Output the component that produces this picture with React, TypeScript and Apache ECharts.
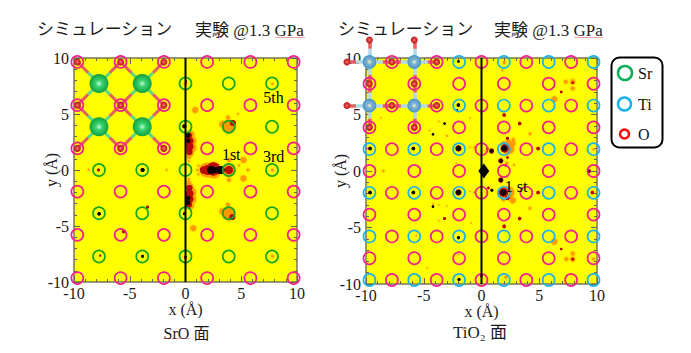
import React, { useEffect, useRef } from "react";
import * as echarts from "echarts";

const SERIF = '"Liberation Serif", "Noto Sans CJK JP", serif';

const latticeOdd = [-9.7, -5.82, -1.94, 1.94, 5.82, 9.7];
const latticeEven = [-7.76, -3.88, 0, 3.88, 7.76];
const latticeY = [9.65, 5.79, 1.93, -1.93, -5.79, -9.65];
const latticeEvenY = [7.72, 3.86, 0, -3.86, -7.72];

const tickValues = [-10, -5, 0, 5, 10];

// SrO panel: spots as [x, y, spot strength]
const sroOrange = [
  [0.87, 5.35, 6], [0.7, -5.2, 6], [3.9, 3.9, 13], [3.85, -3.9, 13], [3.3, 4.1, 6], [3.3, -3.7, 6],
  [3.8, 4.7, 4], [3.8, -3.1, 4], [4.7, 5.0, 2], [3.9, 0, 13], [5.2, 0.9, 6], [5.2, -0.75, 6], [5.6, 0, 3],
  [4.8, 0.4, 2], [3.9, 0.9, 4], [3.9, -0.9, 4], [7.8, 0, 3], [-8.7, 0, 2], [-1.7, 0, 2], [0, 7.7, 3],
  [7.8, 7.7, 2.5], [7.8, -7.7, 3], [0.3, 1.15, 4], [0.3, 0.8, 2], [0.3, -1.1, 4], [0.3, -0.8, 2], [1.15, 0.4, 2], [1.05, 0, 2.5],
  [1.15, -0.4, 2], [0.45, 3.2, 7], [0.5, 2.6, 10], [0.5, 2, 10], [0.4, 1.5, 7], [0.45, -3.2, 7], [0.5, -2.6, 10], [0.5, -2, 10], [0.4, -1.5, 7],
  [1.9, 0, 14], [2.5, 0, 16], [1.6, 0.2, 6],
];
const sroRed = [
  [4.25, 4.2, 6], [4.2, -4.2, 6], [3.9, 0, 8], [1.6, 0, 7], [2.0, 0, 10], [2.5, 0.1, 13], [3.0, 0, 8],
  [0.35, 1.6, 6], [0.35, 2.1, 8], [0.35, 2.6, 8], [0.3, 3.1, 6], [0.35, -1.6, 6], [0.35, -2.1, 8], [0.35, -2.6, 8], [0.3, -3.1, 6],
  [-7.8, 0, 3], [-3.4, -3.3, 3], [-5.55, -5.5, 3.5], [-7.65, -7.65, 2], [0, -7.8, 3], [0.05, 7.9, 2],
];
const sroBlack = [
  [-0.1, 3.9, 4], [0.2, 3.1, 5], [0.25, 2.6, 4], [0.2, -2.9, 5], [0.25, -2.5, 4], [-0.1, -3.9, 3], [2.3, 0, 8], [2.7, 0, 6], [3.15, 0, 8],
  [-3.85, 0, 4], [-7.75, -3.9, 3.5], [-3.85, -7.7, 3],
];

// TiO2 panel
const tioOrange = [
  [1.96, 9.6, 3], [1.8, 8.9, 2], [7.3, 7.9, 4], [7.9, 7.9, 5], [7.9, 7.3, 4], [6.3, 6.35, 6],
  [4.2, 3.3, 3], [-3.0, 3.1, 2], [-3.7, 4.4, 1.5], [-4.5, 3.6, 1.5], [-1, 4.7, 1.5], [-8.7, 4.7, 1.5], [-0.6, 2.1, 2],
  [-1.0, 2.1, 1.5], [2.7, 2.45, 6], [2.75, 2.8, 3], [2.3, 2.6, 5], [2.3, 2.0, 12], [1.96, 2.35, 6], [2.2, 0.7, 3], [2.8, 0.55, 2],
  [-8.5, 0, 2.5], [-2.2, 0.7, 1.5], [2.7, -2.6, 6], [2.3, -2.3, 5], [2.3, -1.9, 12], [1.9, -2.5, 4], [2.2, -0.5, 2],
  [4.2, -3.3, 3], [-3.0, -3.1, 1.5], [-3.7, -3.0, 1.5], [-3.7, -4.4, 1.5], [-4.2, -2.9, 1.5], [-0.9, -4.6, 1.5], [-5.65, -5.7, 1.5],
  [6.3, -6.25, 6], [7.35, -7.8, 4], [7.9, -7.8, 5], [7.9, -7.3, 4], [-4.7, -8.6, 1.5], [2.1, -9.4, 3], [9.7, -7.8, 3],
  [9.7, 1.9, 2], [-0.6, -1.9, 2], [-1, -1.8, 1.5], [0.3, 1.8, 1.5], [0.4, -1.9, 1.5], [-6.2, 1.6, 1.5], [-2, -7.4, 1.5],
];
const tioRed = [
  [7.9, 7.8, 2.5], [6.9, 7, 2.5], [1.96, 4.95, 3.5], [3.3, 4.2, 3.5], [4.9, 2, 3.5], [2.25, 1.2, 2.5], [2.25, 2.9, 3], [0.5, 2, 2.5],
  [2.1, 0.5, 2.5], [9.3, 0, 4], [9.6, -1.9, 3.5], [4.9, -1.9, 3.5], [2.25, -2.4, 4], [3.3, -4.2, 3.5], [1.96, -4.9, 3.5],
  [6.9, -6.9, 2.5], [7.9, -7.8, 2.5], [0, -9.3, 2.5], [-3.2, -4.2, 3], [0.6, -1.5, 2.5],
  [2, 2, 8], [1.9, -1.9, 9], [-2, 2, 6], [-2, -1.9, 6], [0.87, 1.77, 5], [1.67, 0.9, 5], [1.67, -0.8, 5],
];
const tioBlack = [
  [-2, 9.7, 2.5], [-2, 5.85, 3.5], [-2.1, 5.4, 1.5], [-3.2, 4.2, 2.5], [-4.2, 3.25, 2.5], [-9.65, 2, 3.5], [-5.9, 2, 3.5], [-2, 2, 5],
  [0.87, 1.77, 3.5], [1.96, 2, 5.5], [1.67, 0.9, 3.5], [-9.65, -1.9, 3.5], [-5.9, -1.9, 3.5], [-2, -1.9, 5], [0.9, -1.7, 3],
  [1.67, -0.8, 3.5], [1.9, -1.9, 6], [-4.2, -3.15, 2.5], [-2, -5.9, 3], [-1.95, -9.6, 3], [9.3, 0, 2.5],
];
const tioDiamond = [[0.2, 0]];

const sroAnnotations = [[4.1, 1.35, "1st"], [7.9, 1.25, "3rd"], [7.9, 6.5, "5th"]];
const tioAnnotations = [[3, -1.35, "1 st"]];

// ball-and-stick atoms
const srAtoms = [[-7.76, 7.72], [-3.88, 7.72], [-7.76, 3.86], [-3.88, 3.86]];
const sroOAtoms = [
  [-9.7, 9.65], [-5.82, 9.65], [-1.94, 9.65], [-9.7, 5.79], [-5.82, 5.79], [-1.94, 5.79],
  [-9.7, 1.93], [-5.82, 1.93], [-1.94, 1.93],
];
const tiAtoms = [[-9.7, 9.65], [-5.82, 9.65], [-9.7, 5.79], [-5.82, 5.79]];
const tioOAtoms = [
  [-9.7, 11.6], [-5.82, 11.6], [-11.65, 9.65], [-7.76, 9.65], [-3.88, 9.65], [-9.7, 7.72], [-5.82, 7.72],
  [-11.65, 5.79], [-7.76, 5.79], [-3.88, 5.79], [-9.7, 3.86], [-5.82, 3.86],
];
const centerLine = [[0, -10], [0, 10]];

const cross = (xs: number[], ys: number[]) => xs.flatMap((x) => ys.map((y) => [x, y]));

const sroOCircles = cross(latticeOdd, latticeY);
const sroSrCircles = cross(latticeEven, latticeEvenY);
const tioTiCircles = cross(latticeOdd, latticeY);
const tioOCircles = [...cross(latticeEven, latticeY), ...cross(latticeOdd, latticeEvenY)];

const PINK = "#f5208c";
const GREEN = "#17a81f";
const CYAN = "#1cb2ea";

const bondSegments = (a: number[][], b: number[][], reach: number, split: number, which: "a" | "b") => {
  const out: any[] = [];
  a.forEach((p) =>
    b.forEach((q) => {
      if (Math.hypot(p[0] - q[0], p[1] - q[1]) <= reach) {
        const m = [p[0] + (q[0] - p[0]) * split, p[1] + (q[1] - p[1]) * split];
        out.push({ coords: [which === "a" ? p : q, m] });
      }
    })
  );
  return out;
};

const axes = (grid: number) => {
  const common = {
    type: "value" as const,
    min: -10,
    max: 10,
    interval: 5,
    gridIndex: grid,
    splitLine: { show: false },
    axisLine: { show: true, onZero: false, lineStyle: { color: "#77775a", width: 1.5 } },
    axisTick: { show: true, inside: true, length: 6, lineStyle: { color: "#66664a", width: 1 } },
    minorTick: { show: true, splitNumber: 5, length: 3, lineStyle: { color: "#66664a", width: 1 } },
    minorSplitLine: { show: false },
    z: 1,
  };
  const label = {
    show: true,
    fontFamily: SERIF,
    fontSize: 16,
    color: "#1a1a1a",
    customValues: tickValues,
  };
  return {
    x: [
      {
        ...common,
        position: "bottom",
        axisLabel: { ...label, margin: 3 },
        name: "x (Å)",
        nameLocation: "middle",
        nameMoveOverlap: false,
        nameGap: 19,
        nameTextStyle: { fontFamily: SERIF, fontSize: 16, color: "#1a1a1a" },
      },
      { ...common, position: "top", axisLabel: { show: false } },
    ],
    y: [
      {
        ...common,
        position: "left",
        axisLabel: { ...label, margin: 5 },
        name: "y (Å)",
        nameLocation: "middle",
        nameRotate: 90,
        nameMoveOverlap: false,
        nameGap: 15,
        nameTextStyle: { fontFamily: SERIF, fontSize: 16, color: "#1a1a1a" },
      },
      { ...common, position: "right", axisLabel: { show: false } },
    ],
  };
};

const grad = (stops: string[]) =>
  new echarts.graphic.RadialGradient(0.5, 0.5, 0.5, [
    { offset: 0, color: stops[0] },
    { offset: 0.35, color: stops[1] },
    { offset: 1, color: stops[2] },
  ]);

function panelSeries(idx: number, cfg: any) {
  const ax = { xAxisIndex: idx * 2, yAxisIndex: idx * 2 };
  const rings = (data: number[][], color: string, z: number) => ({
    type: "scatter",
    ...ax,
    clip: false,
    data,
    z,
    symbol: "circle",
    symbolSize: 12,
    silent: true,
    itemStyle: { color: "rgba(0,0,0,0)", borderColor: color, borderWidth: 1.7, opacity: 1 },
  });
  const spots = (data: number[][], color: string, z: number, blur: number) => ({
    type: "scatter",
    ...ax,
    clip: false,
    data,
    z,
    symbol: "circle",
    symbolSize: (v: number[]) => v[2],
    silent: true,
    itemStyle: { color, opacity: 1, shadowBlur: blur, shadowColor: color },
  });
  const bonds = (data: any[], color: string) => ({
    type: "lines",
    coordinateSystem: "cartesian2d",
    ...ax,
    clip: false,
    data,
    z: 6,
    silent: true,
    lineStyle: { color, width: cfg.bondWidth, opacity: 1, curveness: 0 },
    effect: { show: false },
  });
  const balls = (data: number[][], size: number, gradient: any, z: number) => ({
    type: "scatter",
    ...ax,
    clip: false,
    data,
    z,
    symbol: "circle",
    symbolSize: size,
    silent: true,
    itemStyle: { color: gradient, opacity: 1 },
  });
  return [
    spots(cfg.orange, "#ff9a00", 3, 2),
    spots(cfg.red, "#b80c06", 4, 1.5),
    spots(cfg.black, "#0a0000", 5, 1),
    bonds(bondSegments(cfg.metal, cfg.oxygen, cfg.reach, cfg.split, "a"), cfg.bondMetal),
    bonds(bondSegments(cfg.metal, cfg.oxygen, cfg.reach, cfg.split, "b"), "#e2605f"),
    balls(cfg.oxygen, 7, grad(["#f6a0a0", "#e23c3c", "#b52020"]), 7),
    rings(cfg.ringA, PINK, 8),
    rings(cfg.ringB, cfg.ringBColor, 8),
    balls(cfg.metal, cfg.metalSize, grad(cfg.metalGrad), 8.5),
    {
      type: "line",
      ...ax,
      data: centerLine,
      z: 9,
      symbol: "none",
      clip: false,
      silent: true,
      lineStyle: { color: "#000", width: 2 },
    },
    ...(cfg.extra || []),
    {
      type: "scatter",
      ...ax,
      clip: false,
      data: cfg.notes,
      z: 10,
      symbolSize: 0,
      silent: true,
      itemStyle: { opacity: 1 },
      label: {
        show: true,
        position: "inside",
        formatter: (p: any) => p.data[2],
        fontFamily: SERIF,
        fontSize: 16,
        color: "#000",
        opacity: 1,
      },
    },
  ];
}

const titleText = (text: string, left: number, top: number, align = "left", size = 17) => ({
  text,
  left,
  top,
  padding: 0,
  textAlign: align,
  textStyle: { fontFamily: SERIF, fontSize: size, fontWeight: "normal", color: "#1a1a1a" },
});

export default function App() {
  const ref = useRef<HTMLDivElement>(null);
  useEffect(() => {
    const chart = echarts.init(ref.current!, undefined, { renderer: "svg" });
    const a0 = axes(0);
    const a1 = axes(1);
    const legendText = (text: string, x: number, y: number) => ({
      type: "text",
      x,
      y,
      style: { text, fontFamily: SERIF, fontSize: 16, fill: "#111", verticalAlign: "middle" },
    });
    const legendRing = (cx: number, cy: number, r: number, color: string, w: number) => ({
      type: "circle",
      shape: { cx, cy, r },
      style: { fill: "none", stroke: color, lineWidth: w },
    });
    const squiggle = (x1: number, x2: number, y: number) => ({
      type: "line",
      shape: { x1, y1: y, x2, y2: y },
      style: { stroke: "#f3a3a3", lineWidth: 1 },
    });
    chart.setOption({
      animation: false,
      backgroundColor: "#ffffff",
      title: [
        titleText("シミュレーション", 37, 21),
        titleText("実験 @1.3 GPa", 195, 22),
        titleText("シミュレーション", 338, 21),
        titleText("実験 @1.3 GPa", 494, 22),
        titleText("SrO 面", 186.5, 325, "center", 16),
        titleText("TiO₂ 面", 480, 324, "center", 17),
      ],
      grid: [
        { left: 74, top: 58, width: 223, height: 224, show: true, backgroundColor: "#ffff00", borderWidth: 0 },
        { left: 366, top: 58, width: 231, height: 226, show: true, backgroundColor: "#ffff00", borderWidth: 0 },
      ],
      xAxis: [
        { ...a0.x[0], gridIndex: 0 },
        { ...a0.x[1], gridIndex: 0 },
        { ...a1.x[0], gridIndex: 1, nameGap: 19 },
        { ...a1.x[1], gridIndex: 1 },
      ],
      yAxis: [
        { ...a0.y[0], gridIndex: 0 },
        { ...a0.y[1], gridIndex: 0 },
        { ...a1.y[0], gridIndex: 1, nameGap: 18 },
        { ...a1.y[1], gridIndex: 1 },
      ],
      series: [
        ...panelSeries(0, {
          orange: sroOrange,
          red: sroRed,
          black: sroBlack,
          metal: srAtoms,
          oxygen: sroOAtoms,
          reach: 2.8,
          split: 0.5,
          bondWidth: 3,
          bondMetal: "#57d98c",
          metalSize: 19,
          metalGrad: ["#c8f6da", "#38d46e", "#12a03e"],
          ringA: sroOCircles,
          ringB: sroSrCircles,
          ringBColor: GREEN,
          notes: sroAnnotations,
        }),
        ...panelSeries(1, {
          orange: tioOrange,
          red: tioRed,
          black: tioBlack,
          metal: tiAtoms,
          oxygen: tioOAtoms,
          reach: 2.1,
          split: 0.6,
          bondWidth: 3.5,
          bondMetal: "#b4d8ea",
          metalSize: 13,
          metalGrad: ["#fff8b0", "#7fb6d8", "#5a94bb"],
          ringA: tioOCircles,
          ringB: tioTiCircles,
          ringBColor: CYAN,
          notes: tioAnnotations,
          extra: [
            {
              type: "scatter",
              xAxisIndex: 2,
              yAxisIndex: 2,
              data: tioDiamond,
              z: 9,
              symbol: "diamond",
              symbolSize: [11, 15],
              silent: true,
              itemStyle: { color: "#000", opacity: 1 },
            },
          ],
        }),
      ],
      graphic: {
        elements: [
          {
            type: "rect",
            shape: { x: 611.5, y: 57.5, width: 51, height: 90, r: 8 },
            style: { fill: "#fff", stroke: "#000", lineWidth: 2 },
          },
          legendRing(625, 73, 7, "#0cae5a", 2.5),
          legendRing(624.5, 104, 6.5, CYAN, 2.5),
          legendRing(624.5, 134, 4.5, "#f01010", 2.5),
          legendText("Sr", 638, 73),
          legendText("Ti", 638, 104),
          legendText("O", 638, 134),
          squiggle(275, 305, 37.5),
          squiggle(574, 603, 37.5),
          squiggle(163, 190, 338.5),
        ],
      },
    });
    return () => chart.dispose();
  }, []);
  return <div ref={ref} style={{ position: "fixed", left: 0, top: 0, width: 691, height: 353 }} />;
}
